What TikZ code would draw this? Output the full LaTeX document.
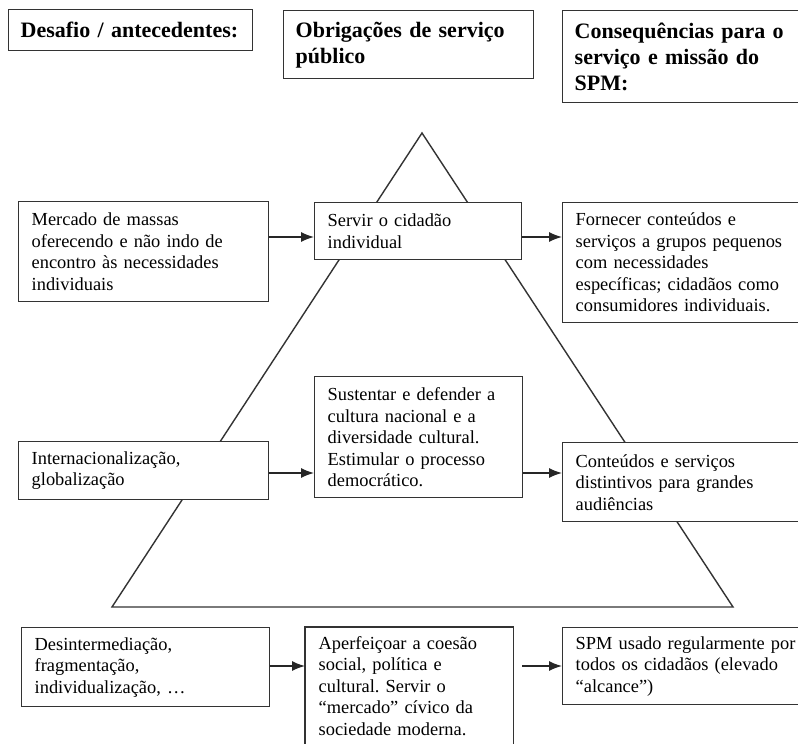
\documentclass[tikz,border=0pt]{standalone}
\usepackage{fontspec}
\setmainfont{Liberation Serif}
\usetikzlibrary{arrows.meta,calc}
\frenchspacing

\begin{document}
\begin{tikzpicture}[x=1pt,y=1pt,
  frame/.style={draw=black!80, line width=1.4pt},
  box/.style={frame, fill=white, anchor=north west, align=left,
    inner xsep=13pt, inner ysep=0pt, font=\fontsize{18.4}{21.5}\selectfont},
  head/.style={box, inner xsep=12pt, font=\bfseries\fontsize{22}{26}\selectfont},
  arr/.style={draw=black!85, line width=1.4pt, -{Latex[length=13pt,width=10pt]}},
  tri/.style={draw=black!80, line width=1.4pt, line join=miter}
]
\useasboundingbox (0,0) rectangle (798,-744);
\clip (0,0) rectangle (798,-744);
\fill[white] (0,0) rectangle (798,-744);

% the pyramid behind the boxes
\coordinate (apex) at (422,-133);
\coordinate (bl) at (112,-607);
\coordinate (br) at (733,-607);
\draw[tri] (apex) -- (bl) -- (br) -- cycle;

% column headings
\node[head, text width=220pt, minimum height=41pt] (hd1) at (8,-9) {Desafio / antecedentes:};
\node[head, text width=226pt, minimum height=68pt] (hd2) at (283,-10) {Obrigações de serviço\\público};
\node[head, text width=230pt, minimum height=92pt] (hd3) at (562,-10) {Consequências para o\\serviço e missão do\\SPM:};

% first row
\node[box, text width=224pt, minimum height=100pt] (mercado) at (18,-201)
  {Mercado de massas\\oferecendo e não indo de\\encontro às necessidades\\individuais};
\node[box, text width=181pt, minimum height=57pt] (servir) at (314,-202)
  {Servir o cidadão\\individual};
\node[box, text width=225pt, minimum height=120pt] (fornecer) at (562,-202)
  {Fornecer conteúdos e\\serviços a grupos pequenos\\com necessidades\\específicas; cidadãos como\\consumidores individuais.};

% second row
\node[box, text width=224pt, minimum height=58pt] (inter) at (18,-441)
  {Internacionalização,\\globalização};
\node[box, text width=182pt, minimum height=121pt] (sust) at (314,-376)
  {Sustentar e defender a\\cultura nacional e a\\diversidade cultural.\\Estimular o processo\\democrático.};
\node[box, text width=225pt, minimum height=79pt] (cont) at (562,-442)
  {Conteúdos e serviços\\distintivos para grandes\\audiências};

% third row
\node[box, text width=222pt, minimum height=79pt] (desint) at (21,-627)
  {Desintermediação,\\fragmentação,\\individualização, …};
\node[box, draw=none, text width=181pt, inner ysep=8.4pt] (aperf) at (305,-627)
  {Aperfeiçoar a coesão\\social, política e\\cultural. Servir o\\“mercado” cívico da\\sociedade moderna.};
\draw[frame] ($(aperf.north west)+(0,-150)$) -- (aperf.north west) -- (aperf.north east) -- ++(0,-150);
\node[box, text width=225pt, minimum height=77pt] (spm) at (562,-627)
  {SPM usado regularmente por\\todos os cidadãos (elevado\\“alcance”)};

% arrows
\coordinate (r1) at (0,-237);
\coordinate (r2) at (0,-473);
\coordinate (r3) at (0,-666);
\draw[arr] (mercado.east |- r1) -- (servir.west |- r1);
\draw[arr] (servir.east |- r1) -- (fornecer.west |- r1);
\draw[arr] (inter.east |- r2) -- (sust.west |- r2);
\draw[arr] (sust.east |- r2) -- (cont.west |- r2);
\draw[arr] (desint.east |- r3) -- (aperf.west |- r3);
\draw[arr] ($(aperf.east |- r3)+(9,0)$) -- (spm.west |- r3);
\end{tikzpicture}
\end{document}
